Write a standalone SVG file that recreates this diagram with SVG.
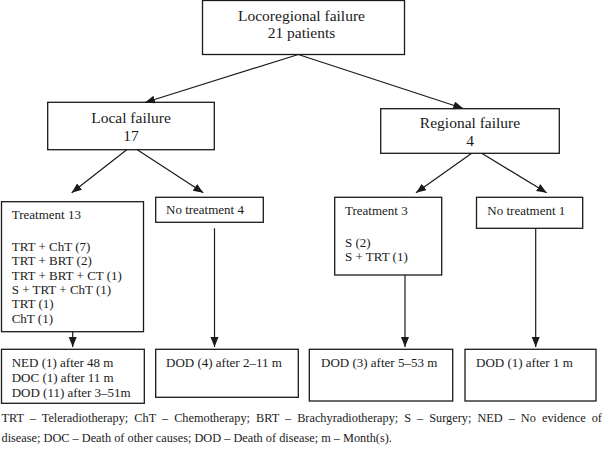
<svg xmlns="http://www.w3.org/2000/svg" width="603" height="457" viewBox="0 0 603 457">
<defs>
<marker id="ah" markerUnits="userSpaceOnUse" markerWidth="11" markerHeight="9" refX="10" refY="4" orient="auto">
<path d="M0,0 L10,4 L0,8 z" fill="#1a1a1a"/>
</marker>
<style>
.box{fill:#fff;stroke:#1a1a1a;stroke-width:1.3}
.big{font-family:"Liberation Serif","Times New Roman",serif;font-size:15.5px;fill:#1a1a1a;text-anchor:middle}
.sm{font-family:"Liberation Serif","Times New Roman",serif;font-size:13px;fill:#1a1a1a}
.ft{font-family:"Liberation Serif","Times New Roman",serif;font-size:12.3px;fill:#1a1a1a}
.con{stroke:#1a1a1a;stroke-width:1.2;fill:none;marker-end:url(#ah)}
</style>
</defs>
<rect width="603" height="457" fill="#fff"/>
<g id="n-locoregional">
<rect class="box" x="202.5" y="0.5" width="202" height="54"/>
<text class="big" x="301.5" y="20.7">Locoregional failure</text>
<text class="big" x="301.5" y="38.3">21 patients</text>
</g>
<g id="n-local">
<rect class="box" x="47.7" y="102.3" width="166.6" height="47.4"/>
<text class="big" x="131" y="122.7">Local failure</text>
<text class="big" x="131" y="140.7">17</text>
</g>
<g id="n-regional">
<rect class="box" x="380.7" y="108.7" width="178.6" height="44.6"/>
<text class="big" x="470" y="128.3">Regional failure</text>
<text class="big" x="470" y="146">4</text>
</g>
<g id="n-treat13">
<rect class="box" x="1.5" y="201.7" width="142" height="130"/>
<text class="sm" x="11.7" y="219">Treatment 13</text>
<text class="sm" x="11.7" y="250.7">TRT + ChT (7)</text>
<text class="sm" x="11.7" y="265.1">TRT + BRT (2)</text>
<text class="sm" x="11.7" y="279.5">TRT + BRT + CT (1)</text>
<text class="sm" x="11.7" y="293.9">S + TRT + ChT (1)</text>
<text class="sm" x="11.7" y="308.3">TRT (1)</text>
<text class="sm" x="11.7" y="322.7">ChT (1)</text>
</g>
<g id="n-notreat4">
<rect class="box" x="155.7" y="197.3" width="107.6" height="25"/>
<text class="sm" x="166" y="214.3">No treatment 4</text>
</g>
<g id="n-treat3">
<rect class="box" x="334.7" y="197.3" width="107" height="77.7"/>
<text class="sm" x="345" y="215">Treatment 3</text>
<text class="sm" x="345" y="246.5">S (2)</text>
<text class="sm" x="345" y="261">S + TRT (1)</text>
</g>
<g id="n-notreat1">
<rect class="box" x="476.5" y="197.3" width="106.2" height="31"/>
<text class="sm" x="487.3" y="215">No treatment 1</text>
</g>
<g id="n-out13">
<rect class="box" x="1.5" y="349.3" width="142.8" height="54"/>
<text class="sm" x="11.7" y="366.7">NED (1) after 48 m</text>
<text class="sm" x="11.7" y="382.3">DOC (1) after 11 m</text>
<text class="sm" x="11.7" y="396.7">DOD (11) after 3–51m</text>
</g>
<g id="n-out4">
<rect class="box" x="155.7" y="349.3" width="142.6" height="48"/>
<text class="sm" x="166" y="366.7">DOD (4) after 2–11 m</text>
</g>
<g id="n-out3">
<rect class="box" x="309.3" y="349.3" width="143.4" height="51.7"/>
<text class="sm" x="321" y="366.7">DOD (3) after 5–53 m</text>
</g>
<g id="n-out1">
<rect class="box" x="465" y="349.3" width="131" height="51.7"/>
<text class="sm" x="476" y="366.7">DOD (1) after 1 m</text>
</g>
<g id="connectors">
<line class="con" x1="298.3" y1="54.5" x2="145" y2="102.5"/>
<line class="con" x1="298.3" y1="54.5" x2="463.3" y2="108.5"/>
<line class="con" x1="126.7" y1="149.7" x2="71.7" y2="192.8"/>
<line class="con" x1="137.3" y1="149.7" x2="203.3" y2="192.8"/>
<line class="con" x1="471.7" y1="153.3" x2="416" y2="192.7"/>
<line class="con" x1="481.7" y1="153.3" x2="546.7" y2="192.7"/>
<line class="con" x1="72.7" y1="331.7" x2="72.7" y2="347"/>
<line class="con" x1="214.5" y1="228.3" x2="214.5" y2="347"/>
<line class="con" x1="405" y1="275" x2="405" y2="347"/>
<line class="con" x1="535.7" y1="228.3" x2="535.7" y2="347"/>
</g>
<g id="footer">
<text class="ft" x="1.5" y="421.7" word-spacing="2.95">TRT – Teleradiotherapy; ChT – Chemotherapy; BRT – Brachyradiotherapy; S – Surgery; NED – No evidence of</text>
<text class="ft" x="1.5" y="441.7">disease; DOC – Death of other causes; DOD – Death of disease; m – Month(s).</text>
</g>
</svg>
